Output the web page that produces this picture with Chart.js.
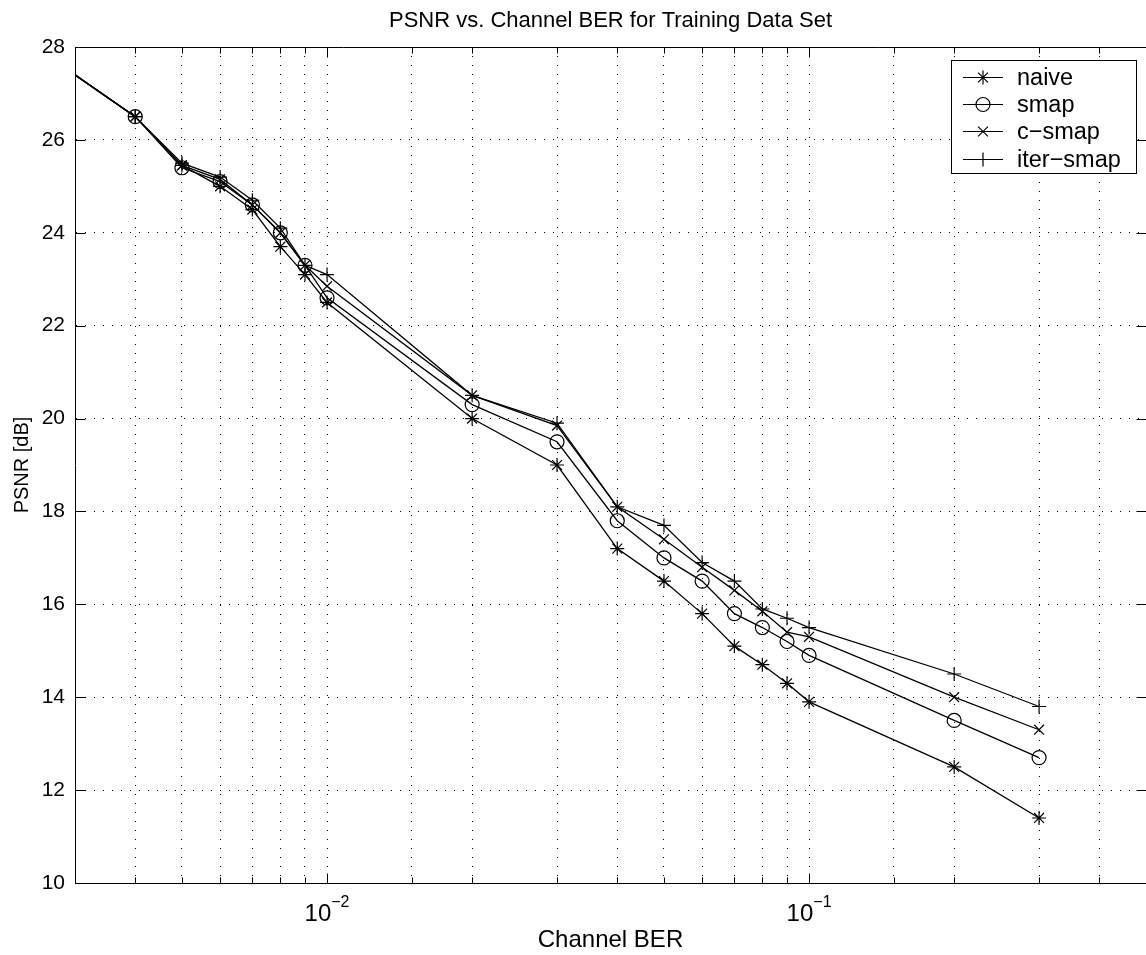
<!DOCTYPE html>
<html><head><meta charset="utf-8">
<script src="https://cdn.jsdelivr.net/npm/chart.js@4/dist/chart.umd.min.js"></script>
<style>html,body{margin:0;padding:0;background:#fff;}canvas{display:block;}</style>
</head><body>
<canvas id="c" width="1146" height="955"></canvas>
<script>
// ---- data ----
const berValues = [0.003, 0.004, 0.005, 0.006, 0.007, 0.008, 0.009, 0.01, 0.02, 0.03, 0.04, 0.05, 0.06, 0.07, 0.08, 0.09, 0.1, 0.2, 0.3];
const naive    = [27.4, 26.5, 25.45, 25.0, 24.5, 23.7, 23.1, 22.5, 20.0, 19.0, 17.2, 16.5, 15.8, 15.1, 14.7, 14.3, 13.9, 12.5, 11.4];
const smap     = [27.4, 26.5, 25.4, 25.1, 24.6, 24.0, 23.3, 22.6, 20.3, 19.5, 17.8, 17.0, 16.5, 15.8, 15.5, 15.2, 14.9, 13.5, 12.7];
const cSmap    = [27.4, 26.5, 25.45, 25.15, 24.6, 24.0, 23.3, 22.85, 20.5, 19.85, 18.1, 17.4, 16.8, 16.3, 15.85, 15.4, 15.3, 14.0, 13.3];
const iterSmap = [27.4, 26.5, 25.5, 25.2, 24.7, 24.1, 23.3, 23.1, 20.5, 19.9, 18.1, 17.7, 16.9, 16.5, 15.9, 15.7, 15.5, 14.5, 13.8];
const seriesNames = ['naive', 'smap', 'c\u2212smap', 'iter\u2212smap'];
const seriesMarkers = ['star', 'circle', 'crossRot', 'cross'];
const xTickLabels = [{value: 0.01, base: '10', exp: '\u22122'}, {value: 0.1, base: '10', exp: '\u22121'}];
const xRange = [0.003, 0.5];
const yRange = [10, 28];
const yStep = 2;
const chartTitle = 'PSNR vs. Channel BER for Training Data Set';
const xTitle = 'Channel BER';
const yTitle = 'PSNR [dB]';

const FONT = "'Liberation Sans', Arial, Helvetica, sans-serif";
const allSeries = [naive, smap, cSmap, iterSmap];

function drawMarker(ctx, style, x, y, r) {
  ctx.beginPath();
  if (style === 'circle') {
    ctx.arc(x, y, r, 0, Math.PI * 2);
  } else {
    const d = r * Math.SQRT1_2;
    if (style === 'cross' || style === 'star') {
      ctx.moveTo(x - r, y); ctx.lineTo(x + r, y);
      ctx.moveTo(x, y - r); ctx.lineTo(x, y + r);
    }
    if (style === 'crossRot' || style === 'star') {
      ctx.moveTo(x - d, y - d); ctx.lineTo(x + d, y + d);
      ctx.moveTo(x - d, y + d); ctx.lineTo(x + d, y - d);
    }
  }
  ctx.stroke();
}

const decorPlugin = {
  id: 'decor',
  afterDraw(chart) {
    const ctx = chart.ctx;
    const a = chart.chartArea;
    const xs = chart.scales.x, ys = chart.scales.y;
    ctx.save();
    ctx.strokeStyle = '#000';
    ctx.fillStyle = '#000';
    ctx.lineWidth = 1;
    const top = Math.round(a.top) + 0.5, bot = Math.round(a.bottom) + 0.5;
    const left = Math.round(a.left) + 0.5, right = Math.round(a.right) + 0.5;
    ctx.beginPath();
    ctx.moveTo(left, top); ctx.lineTo(right, top);
    ctx.moveTo(right, top); ctx.lineTo(right, bot);
    ctx.stroke();
    xs.ticks.forEach(t => {
      const v = t.value;
      const lg = Math.log10(v);
      const major = Math.abs(lg - Math.round(lg)) < 1e-6;
      const len = major ? 10 : 6;
      const px = Math.round(xs.getPixelForValue(v)) + 0.5;
      ctx.beginPath();
      ctx.moveTo(px, bot); ctx.lineTo(px, bot - len);
      ctx.moveTo(px, top); ctx.lineTo(px, top + len);
      ctx.stroke();
    });
    ys.ticks.forEach(t => {
      const py = Math.round(ys.getPixelForValue(t.value)) + 0.5;
      ctx.beginPath();
      ctx.moveTo(left, py); ctx.lineTo(left + 10, py);
      ctx.moveTo(right, py); ctx.lineTo(right - 10, py);
      ctx.stroke();
    });
    xTickLabels.forEach(l => {
      const px = xs.getPixelForValue(l.value);
      ctx.font = '24px ' + FONT;
      const wb = ctx.measureText(l.base).width;
      ctx.font = '16px ' + FONT;
      const we = ctx.measureText(l.exp).width;
      const x0 = px - (wb + we) / 2;
      ctx.textBaseline = 'alphabetic';
      ctx.textAlign = 'left';
      ctx.font = '24px ' + FONT;
      ctx.fillText(l.base, x0, 921);
      ctx.font = '16px ' + FONT;
      ctx.fillText(l.exp, x0 + wb, 907);
    });
    const cx = (a.left + a.right) / 2;
    ctx.textAlign = 'center';
    ctx.textBaseline = 'middle';
    ctx.font = '22px ' + FONT;
    ctx.fillText(chartTitle, cx, 21);
    ctx.font = '24px ' + FONT;
    ctx.fillText(xTitle, cx, 940);
    ctx.save();
    ctx.translate(22, (a.top + a.bottom) / 2);
    ctx.rotate(-Math.PI / 2);
    ctx.font = '20px ' + FONT;
    ctx.fillText(yTitle, 0, 0);
    ctx.restore();
    const bx = 951, by = 60, bw = 185, bh = 113;
    ctx.fillStyle = '#fff';
    ctx.fillRect(bx, by, bw, bh);
    ctx.strokeRect(bx + 0.5, by + 0.5, bw, bh);
    ctx.fillStyle = '#000';
    ctx.textAlign = 'left';
    ctx.textBaseline = 'middle';
    ctx.font = '23.5px ' + FONT;
    seriesNames.forEach((name, i) => {
      const ry = Math.round(77 + i * 27.2) + 0.5;
      ctx.lineWidth = 1.2;
      ctx.beginPath();
      ctx.moveTo(963, ry); ctx.lineTo(1003, ry);
      ctx.stroke();
      drawMarker(ctx, seriesMarkers[i], 983, ry, 7);
      ctx.fillText(name, 1017, ry + 1);
    });
    ctx.restore();
  }
};

const datasets = allSeries.map((vals, i) => ({
  label: seriesNames[i],
  data: berValues.map((x, k) => ({x: x, y: vals[k]})),
  borderColor: '#000',
  borderWidth: 1.3,
  backgroundColor: 'rgba(0,0,0,0)',
  pointStyle: seriesMarkers[i],
  pointRadius: c => (c.dataIndex === 0 ? 0 : 7),
  pointHoverRadius: 7,
  pointBorderColor: '#000',
  pointBackgroundColor: 'rgba(0,0,0,0)',
  pointBorderWidth: 1.2,
  fill: false,
  tension: 0
}));

new Chart(document.getElementById('c'), {
  type: 'line',
  data: {datasets: datasets},
  options: {
    responsive: false,
    animation: false,
    devicePixelRatio: 1,
    layout: {autoPadding: false, padding: {top: 47, left: 0, right: 0, bottom: 0}},
    plugins: {legend: {display: false}, title: {display: false}, tooltip: {enabled: false}},
    scales: {
      x: {
        type: 'logarithmic',
        min: xRange[0], max: xRange[1],
        ticks: {display: false},
        grid: {color: '#000', lineWidth: 1, drawTicks: false},
        border: {display: true, color: '#000', width: 1, dash: [1, 8]},
        afterFit: s => { s.height = 72; s.paddingLeft = 0; s.paddingRight = 0; }
      },
      y: {
        min: yRange[0], max: yRange[1],
        ticks: {stepSize: yStep, color: '#000', padding: 10, font: {family: FONT, size: 21}},
        grid: {color: '#000', lineWidth: 1, drawTicks: false},
        border: {display: true, color: '#000', width: 1, dash: [1, 8]},
        afterFit: s => { s.width = 75; }
      }
    }
  },
  plugins: [decorPlugin]
});
</script>
</body></html>
